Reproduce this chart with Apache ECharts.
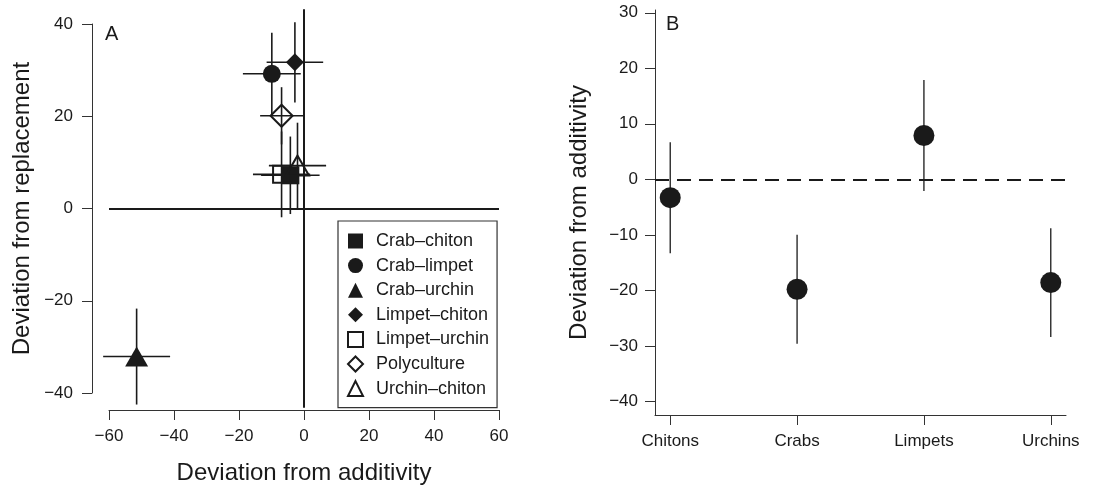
<!DOCTYPE html>
<html>
<head>
<meta charset="utf-8">
<script src="https://cdn.jsdelivr.net/npm/echarts@6/dist/echarts.min.js"></script>
<style>
  html, body { margin: 0; padding: 0; background: #fff; }
  #chart { width: 1096px; height: 490px; }
</style>
</head>
<body>
<div id="chart"></div>
<script>
// panel A: species pairs, deviation from additivity (x) vs deviation from replacement (y)
var pairNames = ['Crab–chiton', 'Crab–limpet', 'Crab–urchin', 'Limpet–chiton', 'Limpet–urchin', 'Polyculture', 'Urchin–chiton']
var additivityDev = [-4.2, -9.9, -51.5, -2.8, -6.9, -6.9, -2.0]
var additivityErr = [9.0, 8.9, 10.3, 8.7, 8.8, 6.6, 8.8]
var replacementDev = [7.2, 29.2, -32.1, 31.7, 7.4, 20.1, 9.3]
var replacementErr = [8.4, 8.9, 10.4, 8.7, 9.3, 6.2, 9.3]

// panel B: single species groups
var groups = ['Chitons', 'Crabs', 'Limpets', 'Urchins']
var groupDev = [-3.3, -19.8, 7.9, -18.6]
var groupErr = [10.0, 9.8, 10.0, 9.8]

// tick labels
var ticksB_y = [-40, -30, -20, -10, 0, 10, 20, 30]
var groupPos = [0, 1, 2, 3]

var ink = '#1a1a1a'
var font = 'Liberation Sans, Arial, Helvetica, sans-serif'

var pairSymbols = ['rect', 'circle', 'triangle', 'diamond', 'rect', 'diamond', 'triangle']
var pairSizes = [18, 18, [23, 20], 18, 17, 22, [23, 20]]
var pairFilled = [true, true, true, true, false, false, false]

function minus (v) {
  return v < 0 ? '\u2212' + Math.abs(v) : String(v)
}

var chart = echarts.init(document.getElementById('chart'))

function axisBase () {
  return {
    axisLine: { show: true, onZero: false, lineStyle: { color: '#333', width: 1 } },
    axisTick: { show: true, inside: false, length: 10, lineStyle: { color: '#333', width: 1 } },
    splitLine: { show: false },
    axisLabel: { color: ink, fontSize: 17, fontFamily: font, formatter: minus },
    nameTextStyle: { color: ink, fontSize: 24, fontFamily: font }
  }
}

var xA = Object.assign(axisBase(), {
  type: 'value', gridIndex: 0, min: -60, max: 60, interval: 20,
  offset: 17, name: 'Deviation from additivity', nameLocation: 'middle', nameGap: 51
})
xA.axisLabel.margin = 18

var yA = Object.assign(axisBase(), {
  type: 'value', gridIndex: 0, min: -40, max: 40, interval: 20,
  offset: 17, name: 'Deviation from replacement', nameLocation: 'middle', nameGap: 58
})
yA.axisLabel.margin = 19

var xB = Object.assign(axisBase(), {
  type: 'value', gridIndex: 1, min: -0.12, max: 3.12
})
xB.axisTick.customValues = groupPos
xB.axisLabel = {
  customValues: groupPos, color: ink, fontSize: 17, fontFamily: font, margin: 18,
  formatter: function (v) { return groups[Math.round(v)] }
}

var yB = Object.assign(axisBase(), {
  type: 'value', gridIndex: 1, min: -42.45, max: 30.5,
  name: 'Deviation from additivity', nameLocation: 'middle', nameGap: 64
})
yB.axisTick.customValues = ticksB_y
yB.axisLabel.customValues = ticksB_y
yB.axisLabel.margin = 17

var series = []

// error bars for A
series.push({
  type: 'custom',
  xAxisIndex: 0, yAxisIndex: 0,
  clip: false,
  silent: true,
  z: 2,
  data: pairNames.map(function (n, i) {
    return [additivityDev[i], replacementDev[i], additivityErr[i], replacementErr[i]]
  }),
  renderItem: function (params, api) {
    var x = api.value(0), y = api.value(1), ex = api.value(2), ey = api.value(3)
    var l = api.coord([x - ex, y]), r = api.coord([x + ex, y])
    var t = api.coord([x, y + ey]), b = api.coord([x, y - ey])
    var st = { stroke: ink, lineWidth: 1.6 }
    return {
      type: 'group',
      children: [
        { type: 'line', shape: { x1: l[0], y1: l[1], x2: r[0], y2: r[1] }, style: st },
        { type: 'line', shape: { x1: t[0], y1: t[1], x2: b[0], y2: b[1] }, style: st }
      ]
    }
  }
})

// reference lines in A
series.push({
  type: 'line',
  xAxisIndex: 0, yAxisIndex: 0,
  clip: false, silent: true, symbol: 'none', z: 1,
  lineStyle: { color: ink, width: 2 },
  data: [[0, -43.2], [0, 43.2]],
  markLine: {
    silent: true, symbol: 'none', label: { show: false },
    lineStyle: { color: ink, width: 2, type: 'solid' },
    data: [{ yAxis: 0 }]
  }
})

pairNames.forEach(function (name, i) {
  series.push({
    name: name,
    type: 'scatter',
    xAxisIndex: 0, yAxisIndex: 0,
    symbol: pairSymbols[i],
    symbolSize: pairSizes[i],
    clip: false,
    z: 3,
    itemStyle: pairFilled[i]
      ? { color: ink, borderWidth: 0, opacity: 1 }
      : { color: 'rgba(255,255,255,0)', borderColor: ink, borderWidth: 2, opacity: 1 },
    data: [[additivityDev[i], replacementDev[i]]]
  })
})

// B: error bars
series.push({
  type: 'custom',
  xAxisIndex: 1, yAxisIndex: 1,
  silent: true, z: 2,
  data: groups.map(function (g, i) { return [groupPos[i], groupDev[i], groupErr[i]] }),
  renderItem: function (params, api) {
    var x = api.value(0), y = api.value(1), e = api.value(2)
    var t = api.coord([x, y + e]), b = api.coord([x, y - e])
    return {
      type: 'line',
      shape: { x1: t[0], y1: t[1], x2: b[0], y2: b[1] },
      style: { stroke: ink, lineWidth: 1.3 }
    }
  }
})

series.push({
  type: 'scatter',
  xAxisIndex: 1, yAxisIndex: 1,
  symbol: 'circle', symbolSize: 21, z: 3,
  itemStyle: { color: ink, opacity: 1 },
  data: groups.map(function (g, i) { return [groupPos[i], groupDev[i]] }),
  markLine: {
    silent: true, symbol: 'none', label: { show: false },
    lineStyle: { color: ink, width: 2, type: [14, 8] },
    data: [{ yAxis: 0 }]
  }
})

var option = {
  backgroundColor: '#fff',
  animation: false,
  title: [
    { text: 'A', left: 100, top: 19, textStyle: { color: ink, fontSize: 20, fontWeight: 'normal', fontFamily: font } },
    { text: 'B', left: 661, top: 9, textStyle: { color: ink, fontSize: 20, fontWeight: 'normal', fontFamily: font } }
  ],
  grid: [
    { left: 109, top: 24, width: 390, height: 374, containLabel: false },
    { left: 655, top: 10, width: 411, height: 405, containLabel: false }
  ],
  xAxis: [xA, xB],
  yAxis: [yA, yB],
  legend: {
    data: pairNames,
    orient: 'vertical',
    left: 338, top: 221,
    itemWidth: 15, itemHeight: 15, itemGap: 6.6,
    padding: [11, 8, 10, 9],
    borderColor: '#333', borderWidth: 1.2,
    textStyle: { color: ink, fontSize: 18, fontFamily: font, padding: [0, 0, 0, 8] },
    selectedMode: false
  },
  series: series
}

chart.setOption(option)
</script>
</body>
</html>
